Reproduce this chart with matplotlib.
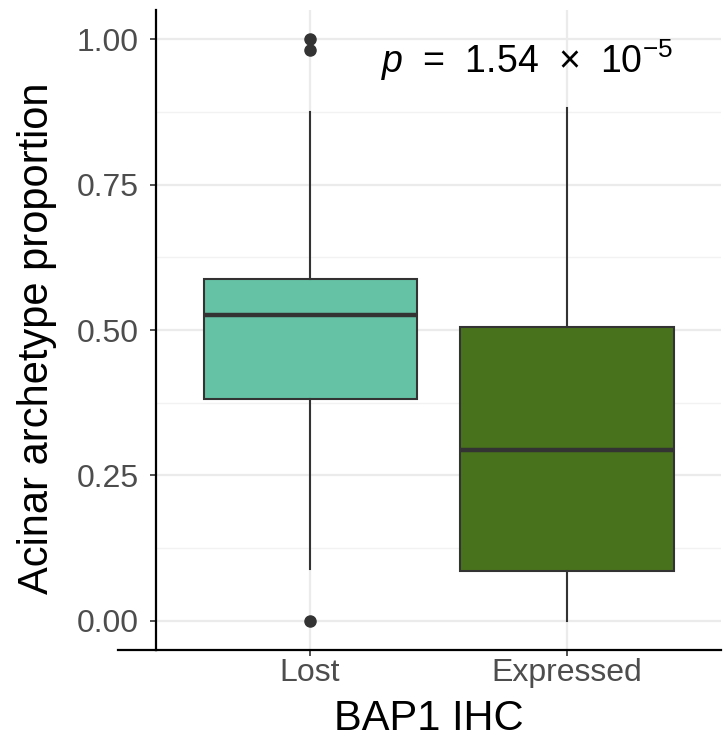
import matplotlib
matplotlib.use("Agg")
import matplotlib.pyplot as plt
from matplotlib.lines import Line2D

plt.rcParams['font.family'] = ['Liberation Sans', 'DejaVu Sans']
plt.rcParams['mathtext.fontset'] = 'custom'
plt.rcParams['mathtext.rm'] = 'Liberation Sans'
plt.rcParams['mathtext.it'] = 'Liberation Sans:italic'

# box summaries
groups = ['Lost', 'Expressed']
q1 = [0.381, 0.086]
medians = [0.525, 0.293]
q3 = [0.587, 0.506]
whisk_lo = [0.089, 0.0]
whisk_hi = [0.875, 0.882]
outliers = [[1.0, 0.981, 0.0], []]
colors = ['#66C2A5', '#48721C']
p_label = r'$p\;\,=\;\,1.54\;\,\times\;\,10^{-5}$'

fig = plt.figure(figsize=(7.25, 7.4), dpi=100)
ax = fig.add_axes([0.2152, 0.1216, 0.7793, 0.8649])

stats = []
for i, g in enumerate(groups):
    stats.append(dict(label=g, q1=q1[i], med=medians[i], q3=q3[i],
                      whislo=whisk_lo[i], whishi=whisk_hi[i], fliers=outliers[i]))

pos = [1, 2]
bp = ax.bxp(stats, positions=pos, widths=0.83, patch_artist=True,
            showcaps=False, zorder=3,
            boxprops=dict(edgecolor='#333333', linewidth=1.5),
            medianprops=dict(color='#333333', linewidth=3.2, solid_capstyle='butt'),
            whiskerprops=dict(color='#333333', linewidth=1.5),
            flierprops=dict(marker='o', markerfacecolor='#333333',
                            markeredgecolor='#333333', markersize=8))
for patch, c in zip(bp['boxes'], colors):
    patch.set_facecolor(c)

ax.set_xlim(0.4, 2.6)
ax.set_ylim(-0.05, 1.05)
ax.set_yticks([0, 0.25, 0.5, 0.75, 1.0])
ax.set_yticklabels(['0.00', '0.25', '0.50', '0.75', '1.00'])
ax.set_yticks([0.125, 0.375, 0.625, 0.875], minor=True)
ax.set_xticks(pos)
ax.set_xticklabels(groups)

ax.grid(True, which='major', color='#EBEBEB', linewidth=1.6, zorder=0)
ax.grid(True, which='minor', axis='y', color='#F2F2F2', linewidth=1.0, zorder=0)
ax.set_axisbelow(True)

for s in ['top', 'right']:
    ax.spines[s].set_visible(False)
ax.spines['left'].set_linewidth(1.6)
ax.spines['bottom'].set_linewidth(1.6)
ax.tick_params(axis='both', which='major', labelsize=23, labelcolor='#4D4D4D',
               color='#333333', length=4.5, width=1.2)
ax.tick_params(axis='y', which='minor', length=0)
ax.tick_params(axis='y', pad=8)
ax.tick_params(axis='x', pad=1)

# x axis line runs a bit past the y axis in the original
fig.add_artist(Line2D([118 / 725, 156 / 725], [0.1216, 0.1216], color='black',
                      linewidth=1.6, transform=fig.transFigure))

fig.text(429 / 725, 10 / 740, 'BAP1 IHC', fontsize=30, ha='center', va='baseline')
fig.text(37 / 725, 1 - 338 / 740, 'Acinar archetype proportion', fontsize=30,
         rotation=90, ha='center', va='center')

ax.text(1.844, 0.942, p_label, fontsize=27, ha='center', va='baseline')

fig.savefig('out.png', dpi=100)
